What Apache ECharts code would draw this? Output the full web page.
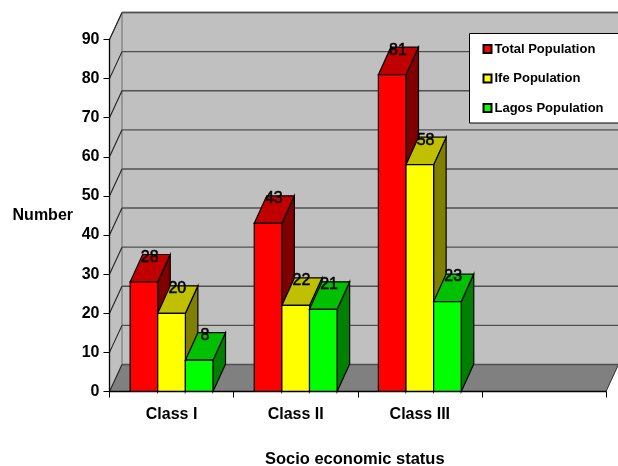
<!DOCTYPE html>
<html>
<head>
<meta charset="utf-8">
<style>html,body{margin:0;padding:0;background:#fff}#chart{width:618px;height:466px}</style>
<script src="https://cdn.jsdelivr.net/npm/echarts@6/dist/echarts.min.js"></script>
</head>
<body>
<div id="chart"></div>
<script>
// Socio economic class counts, shown as a pseudo-3D clustered column chart
const categories = ['Class I', 'Class II', 'Class III', ''];
const totalPopulation = [28, 43, 81];
const ifePopulation = [20, 22, 58];
const lagosPopulation = [8, 21, 23];
const valueTicks = [0, 10, 20, 30, 40, 50, 60, 70, 80, 90];

const seriesNames = ['Total Population', 'Ife Population', 'Lagos Population'];
const faceColors = [
  { front: '#ff0000', top: '#c00000', side: '#800000' },
  { front: '#ffff00', top: '#c0c000', side: '#808000' },
  { front: '#00ff00', top: '#00c000', side: '#008000' }
];

// Screen offset of the chart's depth axis
const DEPTH_X = 12.5;
const DEPTH_Y = 27;
const BAR_FRACTION = 0.2226;
const FONT = '"Liberation Sans", Arial, sans-serif';

const chart = echarts.init(document.getElementById('chart'));

function poly(points, fill, stroke, width) {
  return {
    type: 'polygon',
    shape: { points },
    style: { fill, stroke: stroke || 'none', lineWidth: width || 0 }
  };
}

function segment(x1, y1, x2, y2, stroke, width) {
  return {
    type: 'line',
    shape: { x1, y1, x2, y2 },
    style: { stroke, lineWidth: width || 1 }
  };
}

// Side wall, back wall and floor
function renderWalls(params, api) {
  const cs = params.coordSys;
  const x0 = cs.x, x1 = cs.x + cs.width;
  const yTop = api.coord([0, 90])[1], yBase = api.coord([0, 0])[1];
  const dx = DEPTH_X, dy = DEPTH_Y;
  return {
    type: 'group',
    children: [
      poly([[x0 + dx, yTop - dy], [x1 + dx, yTop - dy], [x1 + dx, yBase - dy], [x0 + dx, yBase - dy]], '#c0c0c0'),
      poly([[x0, yTop], [x0 + dx, yTop - dy], [x0 + dx, yBase - dy], [x0, yBase]], '#c0c0c0'),
      poly([[x0, yBase], [x0 + dx, yBase - dy], [x1 + dx, yBase - dy], [x1, yBase]], '#808080'),
      segment(x0 + dx, yTop - dy, x1 + dx, yTop - dy, '#707070', 1.3),
      segment(x0 + dx, yTop - dy, x0 + dx, yBase - dy, '#808080', 1.3),
      segment(x0, yTop, x0 + dx, yTop - dy, '#707070'),
      segment(x1, yBase, x1 + dx, yBase - dy, '#303030')
    ]
  };
}

// One gridline per tick: diagonal on the side wall, horizontal on the back wall
function renderGridline(params, api) {
  const cs = params.coordSys;
  const y = api.coord([0, api.value(0)])[1];
  const x0 = cs.x, x1 = cs.x + cs.width;
  const dx = DEPTH_X, dy = DEPTH_Y;
  return {
    type: 'group',
    children: [
      segment(x0, y, x0 + dx, y - dy, '#202020', 1.1),
      segment(x0 + dx, y - dy, x1 + dx, y - dy, '#505050', 1.4)
    ]
  };
}

function barRenderer(seriesIndex) {
  const c = faceColors[seriesIndex];
  return function (params, api) {
    const value = api.value(1);
    const top = api.coord([api.value(0), value]);
    const base = api.coord([api.value(0), 0]);
    const w = api.size([1, 0])[0] * BAR_FRACTION;
    const xl = top[0] + (seriesIndex - 1.5) * w;
    const xr = xl + w;
    const yt = top[1], yb = base[1];
    const dx = DEPTH_X, dy = DEPTH_Y + 0.5;
    return {
      type: 'group',
      children: [
        poly([[xr, yb], [xr + dx, yb - dy], [xr + dx, yt - dy], [xr, yt]], c.side, '#000', 1.2),
        poly([[xl, yt], [xl + dx, yt - dy], [xr + dx, yt - dy], [xr, yt]], c.top, '#000', 1.2),
        poly([[xl, yb], [xl, yt], [xr, yt], [xr, yb]], c.front, '#000', 1.2),
        {
          type: 'text',
          style: {
            text: String(value),
            x: (xl + xr) / 2 + dx / 2 - 0.5,
            y: yt - dy + 3,
            align: 'center',
            verticalAlign: 'middle',
            fill: '#000',
            stroke: '#000',
            lineWidth: 0.5,
            font: '16px ' + FONT
          }
        }
      ]
    };
  };
}

const valueSets = [totalPopulation, ifePopulation, lagosPopulation];

const barSeries = seriesNames.map((name, i) => ({
  name,
  type: 'custom',
  coordinateSystem: 'cartesian2d',
  renderItem: barRenderer(i),
  encode: { x: 0, y: 1 },
  data: valueSets[i].map((v, k) => [k, v]),
  itemStyle: { color: faceColors[i].front, borderColor: '#000', borderWidth: 1 },
  z: 2,
  silent: true
}));

chart.setOption({
  animation: false,
  backgroundColor: '#fff',
  grid: { left: 109.5, top: 39.5, width: 496.5, height: 352, outerBoundsMode: 'none', containLabel: false },
  xAxis: {
    type: 'category',
    data: categories,
    z: 3,
    axisLine: { lineStyle: { color: '#000', width: 1.3 } },
    axisTick: { show: true, length: 6, lineStyle: { color: '#000' } },
    axisLabel: {
      interval: 0, margin: 15, color: '#000',
      fontFamily: FONT, fontSize: 16, fontWeight: 'bold'
    },
    name: 'Socio economic status',
    nameLocation: 'middle',
    nameGap: 59,
    nameTextStyle: {
      color: '#000', fontFamily: FONT, fontSize: 16.5, fontWeight: 'bold',
      padding: [0, 6, 0, 0]
    }
  },
  yAxis: {
    type: 'value',
    min: 0,
    max: 90,
    interval: 10,
    z: 3,
    splitLine: { show: false },
    axisLine: { show: true, lineStyle: { color: '#000', width: 1.3 } },
    axisTick: { show: true, length: 6, lineStyle: { color: '#000' } },
    axisLabel: {
      margin: 10, color: '#000', padding: [3, 0, 0, 0],
      fontFamily: FONT, fontSize: 16, fontWeight: 'bold'
    },
    name: 'Number',
    nameLocation: 'middle',
    nameRotate: 0,
    nameGap: 36.5,
    nameTextStyle: {
      color: '#000', fontFamily: FONT, fontSize: 16, fontWeight: 'bold',
      padding: [8, 0, 0, 0]
    }
  },
  legend: {
    orient: 'vertical',
    left: 469.5,
    top: 33.5,
    data: seriesNames,
    icon: 'rect',
    itemWidth: 8,
    itemHeight: 8,
    itemGap: 12.5,
    padding: [7, 16, 6.5, 13],
    backgroundColor: '#fff',
    borderColor: '#000',
    borderWidth: 1,
    borderRadius: 0,
    selectedMode: false,
    inactiveColor: '#000',
    textStyle: {
      color: '#000', fontFamily: FONT, fontSize: 13, fontWeight: 'bold',
      lineHeight: 16, padding: [1, 0, 0, -2]
    }
  },
  series: [
    {
      type: 'custom',
      coordinateSystem: 'cartesian2d',
      renderItem: renderWalls,
      data: [[0]],
      encode: { x: -1, y: -1 },
      z: 1,
      silent: true
    },
    {
      type: 'custom',
      coordinateSystem: 'cartesian2d',
      renderItem: renderGridline,
      data: valueTicks.map(t => [t]),
      encode: { x: -1, y: 0 },
      z: 1,
      silent: true
    }
  ].concat(barSeries)
});
</script>
</body>
</html>
